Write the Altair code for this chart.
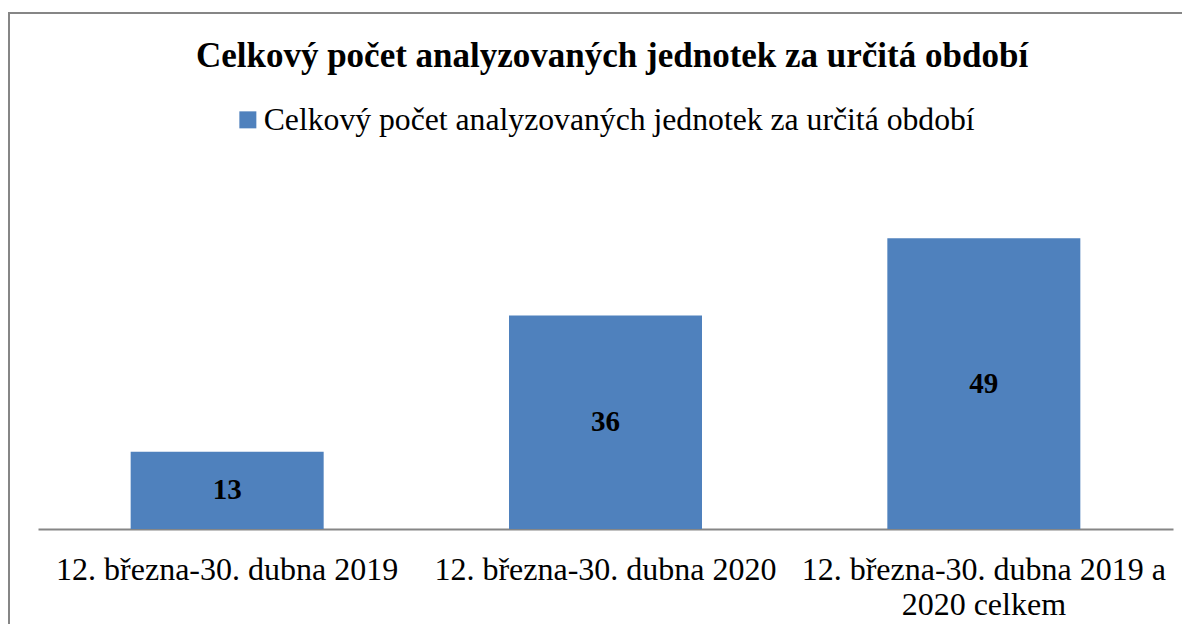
import altair as alt
import pandas as pd

categories = [
    "12. března-30. dubna 2019",
    "12. března-30. dubna 2020",
    "12. března-30. dubna 2019 a 2020 celkem",
]
values = [13, 36, 49]
series_name = "Celkový počet analyzovaných jednotek za určitá období"
title_text = "Celkový počet analyzovaných jednotek za určitá období"

df = pd.DataFrame({"kategorie": categories, "hodnota": values, "serie": [series_name] * 3})

FONT = "Liberation Serif"
BLUE = "#4F81BD"
GRAY = "#868686"

x_enc = alt.X(
    "kategorie:N",
    sort=categories,
    title=None,
    scale=alt.Scale(paddingInner=0.49, paddingOuter=0.245),
    axis=alt.Axis(
        labelAngle=0,
        labelFont=FONT,
        labelFontSize=32,
        labelColor="#000000",
        labelLimit=0,
        labelPadding=25,
        labelLineHeight=35,
        ticks=False,
        domainColor=GRAY,
        domainWidth=2,
        grid=False,
        labelExpr="datum.label == '12. března-30. dubna 2019 a 2020 celkem' ? ['12. března-30. dubna 2019 a', '2020 celkem'] : datum.label",
    ),
)

bars = alt.Chart(df).mark_bar(size=193).encode(
    x=x_enc,
    y=alt.Y("hodnota:Q", scale=alt.Scale(domain=[0, 60]), axis=None),
    color=alt.Color(
        "serie:N",
        scale=alt.Scale(range=[BLUE]),
        legend=alt.Legend(
            title=None,
            orient="none",
            legendX=191,
            legendY=-69,
            symbolType="square",
            symbolSize=289,
            symbolStrokeWidth=0,
            symbolOffset=3,
            labelFont=FONT,
            labelFontSize=31.7,
            labelColor="#000000",
            labelLimit=0,
            labelOffset=0,
        ),
    ),
)

labels = alt.Chart(df).transform_calculate(mid="datum.hodnota / 2").mark_text(
    font=FONT, fontSize=29, fontWeight="bold", color="#000000", baseline="middle", align="center"
).encode(
    x=alt.X("kategorie:N", sort=categories),
    y=alt.Y("mid:Q"),
    text=alt.Text("hodnota:Q"),
)

title = alt.Chart(pd.DataFrame({"t": [title_text]})).mark_text(
    font=FONT, fontSize=35, fontWeight="bold", color="#000000", baseline="middle", align="center"
).encode(x=alt.value(574), y=alt.value(-117), text="t:N")

frame = pd.DataFrame({"b": [1]})
border_top = alt.Chart(frame).mark_rule(color=GRAY, strokeWidth=2).encode(
    x=alt.value(-30), x2=alt.value(1200), y=alt.value(-160)
)
border_left = alt.Chart(frame).mark_rule(color=GRAY, strokeWidth=2).encode(
    x=alt.value(-29), y=alt.value(-161), y2=alt.value(470)
)

chart = alt.layer(border_top, border_left, bars, labels, title).properties(
    width=1135,
    height=356,
    autosize=alt.AutoSizeParams(type="none"),
    padding={"left": 30, "top": 165, "right": 9, "bottom": 95},
).configure_view(stroke=None)

chart.save("out.html", embed_options={"renderer": "svg", "actions": False})
